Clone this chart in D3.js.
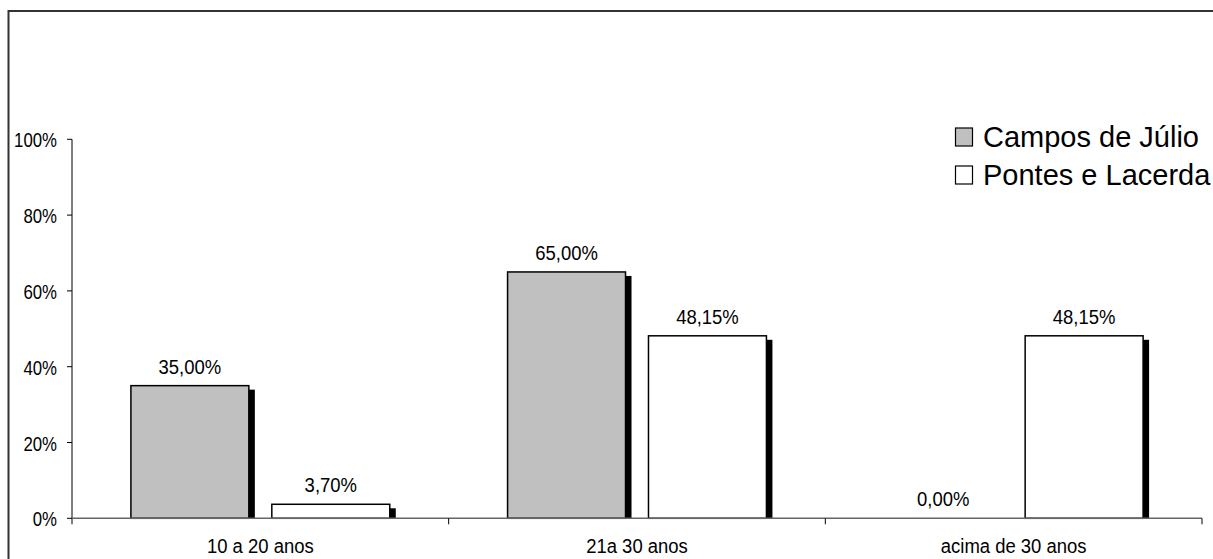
<!DOCTYPE html>
<html>
<head>
<meta charset="utf-8">
<script src="https://cdn.jsdelivr.net/npm/d3@7"></script>
<style>
  html, body { margin: 0; padding: 0; background: #fff; }
  svg { display: block; }
  text { font-family: "Liberation Sans", Arial, sans-serif; fill: #000; }
</style>
</head>
<body>
<svg id="chart" width="1213" height="559"></svg>
<script>
// Age groups and the share of each town's respondents
const categories = ["10 a 20 anos", "21a 30 anos", "acima de 30 anos"];
const seriesNames = ["Campos de Júlio", "Pontes e Lacerda"];
const camposJulio = [0.35, 0.65, 0.0];
const pontesLacerda = [0.037, 0.4815, 0.4815];
const valueLabels = [
  ["35,00%", "65,00%", "0,00%"],
  ["3,70%", "48,15%", "48,15%"]
];
const yTicks = [0, 0.2, 0.4, 0.6, 0.8, 1.0];
const yTickLabels = ["0%", "20%", "40%", "60%", "80%", "100%"];
const seriesFill = ["#c0c0c0", "#ffffff"];

const svg = d3.select("#chart");
const seriesValues = [camposJulio, pontesLacerda];

// Chart area frame (runs off the right and bottom edges)
svg.append("rect")
  .attr("x", 8.5).attr("y", 11)
  .attr("width", 1400).attr("height", 800)
  .attr("fill", "none").attr("stroke", "#333").attr("stroke-width", 2);

const plot = { left: 72, right: 1202, top: 139.3, bottom: 518.3 };

const y = d3.scaleLinear().domain([0, 1]).range([plot.bottom, plot.top]);
const x0 = d3.scaleBand().domain(categories).range([plot.left, plot.right]).padding(0);
const x1 = d3.scaleBand().domain(d3.range(seriesNames.length))
  .range([0, x0.bandwidth()]).paddingInner(0.163).paddingOuter(0.418);

const narrow = 0.88;

// Y axis
const yAxis = svg.append("g");
yAxis.append("line")
  .attr("x1", plot.left).attr("x2", plot.left)
  .attr("y1", y(1)).attr("y2", plot.bottom + 6)
  .attr("stroke", "#000").attr("stroke-width", 1);
yTicks.forEach((t, i) => {
  yAxis.append("line")
    .attr("x1", plot.left - 5).attr("x2", plot.left)
    .attr("y1", y(t)).attr("y2", y(t))
    .attr("stroke", "#000").attr("stroke-width", 1);
  yAxis.append("text")
    .attr("transform", `translate(${plot.left - 15},${y(t) + 8}) scale(0.8,1)`)
    .attr("text-anchor", "end")
    .attr("font-size", 21)
    .text(yTickLabels[i]);
});

// Bars with their drop shadows
const groups = svg.append("g").selectAll("g")
  .data(categories)
  .join("g")
  .attr("transform", c => `translate(${x0(c)},0)`);

seriesNames.forEach((name, s) => {
  groups.each(function(c, ci) {
    const g = d3.select(this);
    const v = seriesValues[s][ci];
    const bx = x1(s), bw = x1.bandwidth();
    const top = y(v), h = plot.bottom - top;
    if (h > 0) {
      g.append("rect")
        .attr("x", bx + 6).attr("y", top + 4)
        .attr("width", bw).attr("height", Math.max(0, h - 4))
        .attr("fill", "#000");
      g.append("rect")
        .attr("x", bx).attr("y", top)
        .attr("width", bw).attr("height", h)
        .attr("fill", seriesFill[s])
        .attr("stroke", "#000").attr("stroke-width", 1.5);
    }
    g.append("text")
      .attr("transform", `translate(${bx + bw / 2},${top - 12}) scale(${narrow},1)`)
      .attr("text-anchor", "middle")
      .attr("font-size", 21)
      .text(valueLabels[s][ci]);
  });
});

// X axis
const xAxis = svg.append("g");
xAxis.append("line")
  .attr("x1", plot.left).attr("x2", plot.right)
  .attr("y1", plot.bottom).attr("y2", plot.bottom)
  .attr("stroke", "#666").attr("stroke-width", 1.5);
categories.forEach((c, i) => {
  xAxis.append("line")
    .attr("x1", x0(c) + x0.bandwidth()).attr("x2", x0(c) + x0.bandwidth())
    .attr("y1", plot.bottom).attr("y2", plot.bottom + 6)
    .attr("stroke", "#000").attr("stroke-width", 1);
  xAxis.append("text")
    .attr("transform", `translate(${x0(c) + x0.bandwidth() / 2},${plot.bottom + 35}) scale(${narrow},1)`)
    .attr("text-anchor", "middle")
    .attr("font-size", 21)
    .text(c);
});

// Legend
const legend = svg.append("g");
seriesNames.forEach((name, s) => {
  const rowY = 147 + s * 38;
  legend.append("rect")
    .attr("x", 955.5).attr("y", rowY - 19)
    .attr("width", 17).attr("height", 18)
    .attr("fill", seriesFill[s])
    .attr("stroke", "#000").attr("stroke-width", 1.2);
  legend.append("text")
    .attr("x", 983).attr("y", rowY)
    .attr("font-size", 29)
    .text(name);
});
</script>
</body>
</html>
